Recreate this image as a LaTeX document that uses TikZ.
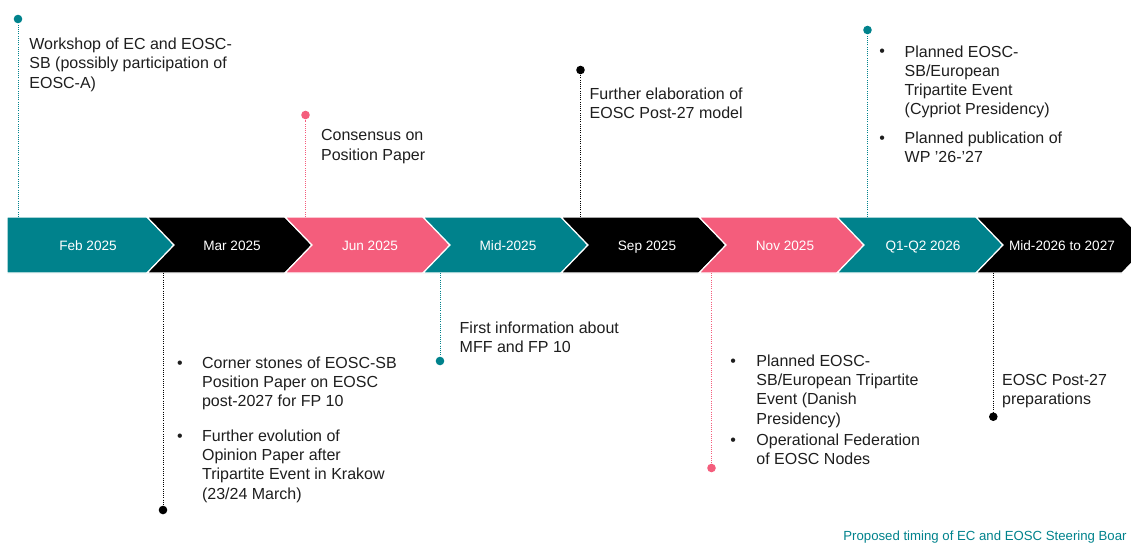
\documentclass[tikz,border=0pt]{standalone}
\usepackage{fontspec}
\setmainfont{Liberation Sans}
\usetikzlibrary{positioning}
\definecolor{eoscteal}{RGB}{0,130,140}
\definecolor{eoscpink}{RGB}{244,93,124}
\definecolor{eosctext}{RGB}{30,30,30}

\begin{document}
\begin{tikzpicture}[x=0.5pt, y=-0.5pt,
    phase/.style={draw=white, line width=0.6pt},
    phaselabel/.style={anchor=base, inner sep=0pt, text=white, font=\fontsize{6.8}{8}\selectfont},
    pindot/.style={circle, inner sep=0pt, minimum size=4.3pt},
    pinline/.style={dash pattern=on 0.5pt off 0.6pt, line width=0.5pt},
    note/.style={anchor=north west, inner sep=0pt, align=left, text=eosctext, font=\fontsize{8}{9.6}\selectfont},
    bulletmark/.style={anchor=base west, inner sep=0pt, text=eosctext, font=\fontsize{8}{9.6}\selectfont}]
        \useasboundingbox (0,0) rectangle (1131,543);
        \clip (0,0) rectangle (1131,543);
        \draw [phase, fill=eoscteal] (7,217) -- (147,217) -- (174,245) -- (147,273) -- (7,273) -- cycle;
        \draw [phase, fill=black] (147,217) -- (285,217) -- (312,245) -- (285,273) -- (147,273) -- (174,245) -- cycle;
        \draw [phase, fill=eoscpink] (285,217) -- (423,217) -- (450,245) -- (423,273) -- (285,273) -- (312,245) -- cycle;
        \draw [phase, fill=eoscteal] (423,217) -- (561,217) -- (588,245) -- (561,273) -- (423,273) -- (450,245) -- cycle;
        \draw [phase, fill=black] (561,217) -- (699,217) -- (726,245) -- (699,273) -- (561,273) -- (588,245) -- cycle;
        \draw [phase, fill=eoscpink] (699,217) -- (837,217) -- (864,245) -- (837,273) -- (699,273) -- (726,245) -- cycle;
        \draw [phase, fill=eoscteal] (837,217) -- (976,217) -- (1003,245) -- (976,273) -- (837,273) -- (864,245) -- cycle;
        \draw [phase, fill=black] (976,217) -- (1122,217) -- (1149,245) -- (1122,273) -- (976,273) -- (1003,245) -- cycle;
        \node [phaselabel] (feb) at (88,250) {Feb 2025};
        \node [phaselabel] (mar) at (232,250) {Mar 2025};
        \node [phaselabel] (jun) at (370,250) {Jun 2025};
        \node [phaselabel] (mid) at (508,250) {Mid-2025};
        \node [phaselabel] (sep) at (647,250) {Sep 2025};
        \node [phaselabel] (nov) at (785,250) {Nov 2025};
        \node [phaselabel] (q12) at (923,250) {Q1-Q2 2026};
        \node [phaselabel] (late) at (1062,250) {Mid-2026 to 2027};
        \coordinate (feb pin) at (18,217);
        \coordinate (jun pin) at (305.5,217);
        \coordinate (sep pin) at (580.5,217);
        \coordinate (q12 pin) at (867.5,217);
        \coordinate (mar pin) at (163,273);
        \coordinate (mid pin) at (440,273);
        \coordinate (nov pin) at (711.5,273);
        \coordinate (late pin) at (993.3,273);
        \node [pindot, fill=eoscteal] (feb dot) at (18,19) {};
        \node [pindot, fill=eoscpink] (jun dot) at (305.5,115) {};
        \node [pindot, fill=black] (sep dot) at (580.5,70) {};
        \node [pindot, fill=eoscteal] (q12 dot) at (867.5,30) {};
        \node [pindot, fill=black] (mar dot) at (163,510) {};
        \node [pindot, fill=eoscteal] (mid dot) at (440,361) {};
        \node [pindot, fill=eoscpink] (nov dot) at (711.5,468) {};
        \node [pindot, fill=black] (late dot) at (993.3,416.7) {};
        \draw [pinline, eoscteal] (feb pin) -- (feb dot);
        \draw [pinline, eoscpink] (jun pin) -- (jun dot);
        \draw [pinline, black] (sep pin) -- (sep dot);
        \draw [pinline, eoscteal] (q12 pin) -- (q12 dot);
        \draw [pinline, black] (mar pin) -- (mar dot);
        \draw [pinline, eoscteal] (mid pin) -- (mid dot);
        \draw [pinline, eoscpink] (nov pin) -- (nov dot);
        \draw [pinline, black] (late pin) -- (late dot);
        \node [note] (feb text) at (29,37.7) {Workshop of EC and EOSC-\\SB (possibly participation of\\EOSC-A)};
        \node [note] (jun text) at (320.7,129.4) {Consensus on\\Position Paper};
        \node [note] (sep text) at (589.3,87.7) {Further elaboration of\\EOSC Post-27 model};
        \node [bulletmark] (q12 b1) at (879,56.7) {•};
        \node [note] (q12 text1) at (904.3,45.1) {Planned EOSC-\\SB/European\\Tripartite Event\\(Cypriot Presidency)};
        \node [bulletmark] (q12 b2) at (879,143.3) {•};
        \node [note] (q12 text2) at (904.3,131.7) {Planned publication of\\WP '26-'27};
        \node [bulletmark] (mar b1) at (176.7,368) {•};
        \node [note] (mar text1) at (201.7,356.4) {Corner stones of EOSC-SB\\Position Paper on EOSC\\post-2027 for FP 10};
        \node [bulletmark] (mar b2) at (176.7,441) {•};
        \node [note] (mar text2) at (201.7,429.4) {Further evolution of\\Opinion Paper after\\Tripartite Event in Krakow\\(23/24 March)};
        \node [note] (mid text) at (459.3,321.4) {First information about\\MFF and FP 10};
        \node [bulletmark] (nov b1) at (730,366) {•};
        \node [note] (nov text1) at (756,354.4) {Planned EOSC-\\SB/European Tripartite\\Event (Danish\\Presidency)};
        \node [bulletmark] (nov b2) at (730,445) {•};
        \node [note] (nov text2) at (756,433.4) {Operational Federation\\of EOSC Nodes};
        \node [note] (late text) at (1001.7,374.1) {EOSC Post-27\\preparations};
        \node [anchor=base west, inner sep=0pt, text=eoscteal, font=\fontsize{6.6}{8}\selectfont] (caption) at (843,540) {Proposed timing of EC and EOSC Steering Boar};
      \end{tikzpicture}
\end{document}
